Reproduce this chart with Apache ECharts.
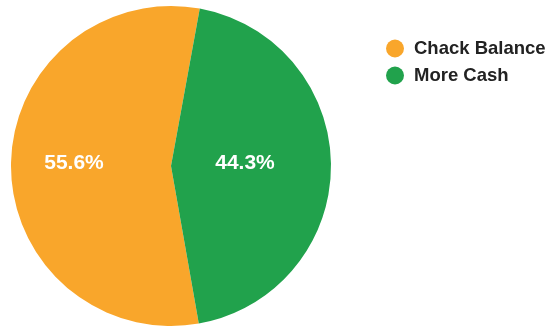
<!DOCTYPE html>
<html>
<head>
<meta charset="utf-8">
<script src="https://cdn.jsdelivr.net/npm/echarts@6/dist/echarts.min.js"></script>
<style>
  html, body { margin: 0; padding: 0; background: #fff; }
  #chart { width: 548px; height: 328px; }
</style>
</head>
<body>
<div id="chart"></div>
<script>
// Account split shown as a pie with a legend on the right
const categories = ['Chack Balance', 'More Cash'];
const shares = [55.6, 44.3];
const colors = ['#F9A62B', '#21A24C'];
const labelShift = [[-14, -3], [-9, -3]];

const chart = echarts.init(document.getElementById('chart'), null, { renderer: 'canvas' });

chart.setOption({
  animation: false,
  color: colors,
  legend: {
    orient: 'vertical',
    left: 386,
    top: 39,
    padding: 0,
    icon: 'circle',
    itemWidth: 18,
    itemHeight: 18,
    itemGap: 8,
    textStyle: {
      fontFamily: 'Liberation Sans, Arial, sans-serif',
      fontSize: 18.5,
      fontWeight: 'bold',
      color: '#222',
      padding: [0, 0, 0, 5]
    },
    data: categories
  },
  series: [{
    type: 'pie',
    center: [171, 166],
    radius: 160,
    startAngle: -80,
    clockwise: true,
    label: {
      show: true,
      position: 'inside',
      color: '#fff',
      fontFamily: 'Liberation Sans, Arial, sans-serif',
      fontSize: 21,
      fontWeight: 'bold',
      formatter: p => p.value.toFixed(1) + '%'
    },
    labelLine: { show: false },
    itemStyle: { borderWidth: 0 },
    emphasis: { disabled: true },
    data: categories.map((name, i) => ({
      name,
      value: shares[i],
      label: { offset: labelShift[i] }
    }))
  }]
});
</script>
</body>
</html>
